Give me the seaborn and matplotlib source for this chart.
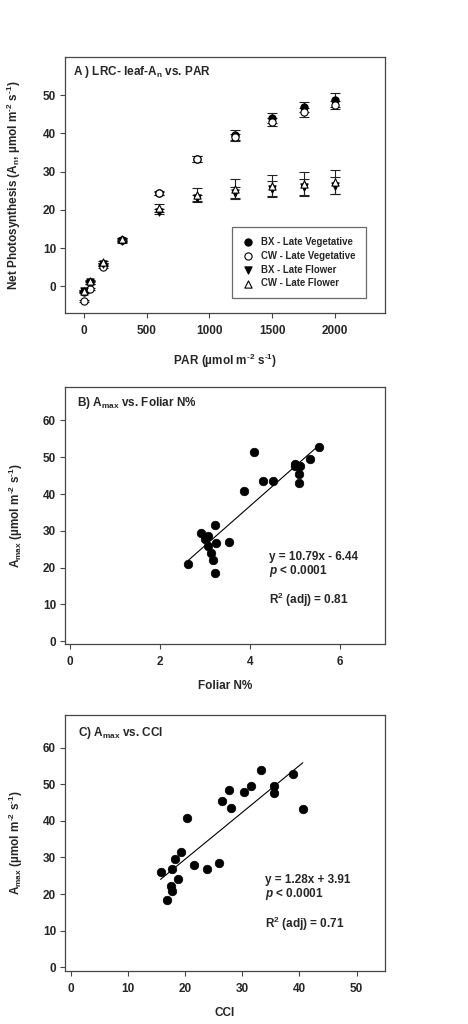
import numpy as np
import pandas as pd
import matplotlib
matplotlib.use("Agg")
import matplotlib.pyplot as plt
import seaborn as sns

# ---- panel A: light response curves ----
par = [0, 50, 150, 300, 600, 900, 1200, 1500, 1750, 2000]
bx_veg = [-1.5, 1.0, 5.5, 12.0, 24.3, 33.2, 39.6, 44.0, 46.9, 48.8]
bx_veg_se = [0.3, 0.3, 0.3, 0.4, 0.5, 0.8, 1.2, 1.3, 1.4, 1.8]
cw_veg = [-3.9, -0.7, 5.0, 12.2, 24.5, 33.2, 39.0, 43.0, 45.5, 47.5]
cw_veg_se = [0.3, 0.3, 0.3, 0.4, 0.5, 0.8, 0.9, 1.0, 1.2, 1.1]
bx_flw = [-1.3, 1.0, 5.8, 11.8, 19.5, 23.0, 24.5, 25.5, 26.0, 26.3]
bx_flw_se = [0.3, 0.3, 0.3, 0.4, 0.6, 1.0, 1.6, 2.0, 2.2, 2.2]
cw_flw = [-1.2, 1.3, 6.3, 12.3, 20.5, 24.0, 25.5, 26.3, 26.8, 27.3]
cw_flw_se = [0.3, 0.3, 0.3, 0.4, 1.0, 1.8, 2.5, 2.9, 3.1, 3.1]

# ---- panel B: Amax vs foliar N ----
foliar_n = [2.63, 2.92, 3.01, 3.08, 3.06, 3.14, 3.18, 3.22, 3.22, 3.24, 3.54,
            3.87, 4.08, 4.28, 4.51, 5.00, 5.00, 5.11, 5.08, 5.08, 5.33, 5.53]
amax_n = [21.0, 29.5, 27.7, 28.6, 25.9, 24.1, 22.1, 18.4, 31.5, 26.8, 26.9,
          40.8, 51.5, 43.5, 43.5, 48.1, 47.6, 47.5, 45.5, 43.1, 49.4, 52.7]
fit_n = (10.79, -6.44)

# ---- panel C: Amax vs CCI ----
cci = [15.7, 16.8, 17.7, 17.5, 17.7, 18.2, 18.8, 19.2, 20.3, 21.6, 23.8,
       26.0, 26.5, 27.6, 28.1, 30.3, 31.5, 33.3, 35.5, 35.5, 38.8, 40.6]
amax_c = [25.9, 18.4, 26.8, 22.2, 20.9, 29.5, 24.0, 31.5, 40.9, 28.0, 26.9,
          28.6, 45.4, 48.3, 43.6, 47.8, 49.4, 53.9, 49.5, 47.5, 52.8, 43.2]
fit_c = (1.28, 3.91)

sns.set_style("white")
plt.rcParams["font.family"] = ["Liberation Sans", "DejaVu Sans"]
plt.rcParams["font.weight"] = "bold"
plt.rcParams["mathtext.fontset"] = "custom"
plt.rcParams["mathtext.rm"] = "Liberation Sans:bold"
plt.rcParams["mathtext.it"] = "Liberation Sans:bold:italic"
plt.rcParams["mathtext.bf"] = "Liberation Sans:bold"
plt.rcParams["mathtext.default"] = "rm"

fs = 8.5
spine_col = "#454545"
units = "(\u00b5mol m$^{\u20102}$ s$^{\u20101}$)"

fig = plt.figure(figsize=(4.68, 10.24), dpi=100)
axA = fig.add_axes([0.139, 0.6943, 0.684, 0.25])
axB = fig.add_axes([0.139, 0.371, 0.684, 0.2507])
axC = fig.add_axes([0.139, 0.0518, 0.684, 0.2503])


def style(ax):
    for s in ax.spines.values():
        s.set_color(spine_col)
        s.set_linewidth(0.9)
    ax.tick_params(axis="both", which="both", direction="out", length=3.5,
                   width=0.8, color=spine_col, labelsize=fs, pad=3,
                   top=False, right=False, bottom=True, left=True)
    ax.tick_params(axis="x", pad=5)
    for lab in ax.get_xticklabels() + ax.get_yticklabels():
        lab.set_fontweight("bold")


# panel A
series = [
    ("BX - Late Vegetative", bx_veg, bx_veg_se, "o", "black"),
    ("CW - Late Vegetative", cw_veg, cw_veg_se, "o", "white"),
    ("BX - Late Flower", bx_flw, bx_flw_se, "v", "black"),
    ("CW - Late Flower", cw_flw, cw_flw_se, "^", "white"),
]
for name, y, se, mk, fc in series:
    axA.errorbar(par, y, yerr=se, fmt="none", ecolor="#222222",
                 elinewidth=0.8, capsize=3.5, capthick=0.8, zorder=2)
for name, y, se, mk, fc in series:
    df = pd.DataFrame({"PAR": par, "An": y})
    sns.scatterplot(data=df, x="PAR", y="An", ax=axA, marker=mk, s=27,
                    color=fc, edgecolor="black", linewidth=0.8,
                    label=name, zorder=3)
axA.set_xlim(-150, 2400)
axA.set_ylim(-7, 60)
axA.set_xticks([0, 500, 1000, 1500, 2000])
axA.set_yticks([0, 10, 20, 30, 40, 50])
axA.set_xlabel("PAR " + units, fontsize=fs, fontweight="bold", labelpad=11)
axA.set_ylabel("Net Photosynthesis (A$_{n}$, \u00b5mol m$^{\u20102}$ s$^{\u20101}$)",
               fontsize=fs, fontweight="bold", labelpad=14)
axA.text(0.024, 0.94, "A ) LRC- leaf-A$_{n}$ vs. PAR", transform=axA.transAxes,
         fontsize=fs, fontweight="bold", va="center", ha="left")
leg = axA.legend(loc="lower left", bbox_to_anchor=(0.522, 0.059, 0.418, 0.273),
                 mode="expand", fontsize=fs - 1.6, frameon=True, fancybox=False,
                 edgecolor=spine_col, handletextpad=0.6, borderpad=1.0,
                 labelspacing=0.4, handlelength=1.4, borderaxespad=0)
leg.get_frame().set_linewidth(0.9)
for t in leg.get_texts():
    t.set_fontweight("bold")
style(axA)

# panel B
dfB = pd.DataFrame({"N": foliar_n, "Amax": amax_n})
sns.scatterplot(data=dfB, x="N", y="Amax", ax=axB, s=38, color="black",
                edgecolor="black", linewidth=0.5, zorder=3)
xb = np.array([min(foliar_n), max(foliar_n)])
sns.lineplot(x=xb, y=fit_n[0] * xb + fit_n[1], ax=axB, color="black",
             linewidth=0.8, zorder=2)
axB.set_xlim(-0.1, 7.0)
axB.set_ylim(-0.8, 69)
axB.set_xticks([0, 2, 4, 6])
axB.set_yticks([0, 10, 20, 30, 40, 50, 60])
axB.set_xlabel("Foliar N%", fontsize=fs, fontweight="bold", labelpad=9)
axB.set_ylabel("A$_{max}$ " + units, fontsize=fs, fontweight="bold", labelpad=13)
axB.text(0.037, 0.94, "B) A$_{max}$ vs. Foliar N%", transform=axB.transAxes,
         fontsize=fs, fontweight="bold", va="center", ha="left")
axB.text(0.637, 0.340, "y = 10.79x - 6.44", transform=axB.transAxes,
         fontsize=fs, fontweight="bold", va="center")
axB.text(0.637, 0.286, "$\\mathit{p}$ < 0.0001", transform=axB.transAxes,
         fontsize=fs, fontweight="bold", va="center")
axB.text(0.637, 0.171, "R$^{2}$ (adj) = 0.81", transform=axB.transAxes,
         fontsize=fs, fontweight="bold", va="center")
style(axB)

# panel C
dfC = pd.DataFrame({"CCI": cci, "Amax": amax_c})
sns.scatterplot(data=dfC, x="CCI", y="Amax", ax=axC, s=38, color="black",
                edgecolor="black", linewidth=0.5, zorder=3)
xc = np.array([min(cci), max(cci)])
sns.lineplot(x=xc, y=fit_c[0] * xc + fit_c[1], ax=axC, color="black",
             linewidth=0.8, zorder=2)
axC.set_xlim(-1, 55)
axC.set_ylim(-1, 69)
axC.set_xticks([0, 10, 20, 30, 40, 50])
axC.set_yticks([0, 10, 20, 30, 40, 50, 60])
axC.set_xlabel("CCI", fontsize=fs, fontweight="bold", labelpad=9)
axC.set_ylabel("A$_{max}$ " + units, fontsize=fs, fontweight="bold", labelpad=13)
axC.text(0.04, 0.927, "C) A$_{max}$ vs. CCI", transform=axC.transAxes,
         fontsize=fs, fontweight="bold", va="center", ha="left")
axC.text(0.626, 0.355, "y = 1.28x + 3.91", transform=axC.transAxes,
         fontsize=fs, fontweight="bold", va="center")
axC.text(0.626, 0.300, "$\\mathit{p}$ < 0.0001", transform=axC.transAxes,
         fontsize=fs, fontweight="bold", va="center")
axC.text(0.626, 0.183, "R$^{2}$ (adj) = 0.71", transform=axC.transAxes,
         fontsize=fs, fontweight="bold", va="center")
style(axC)

fig.savefig("out.png", dpi=100)
